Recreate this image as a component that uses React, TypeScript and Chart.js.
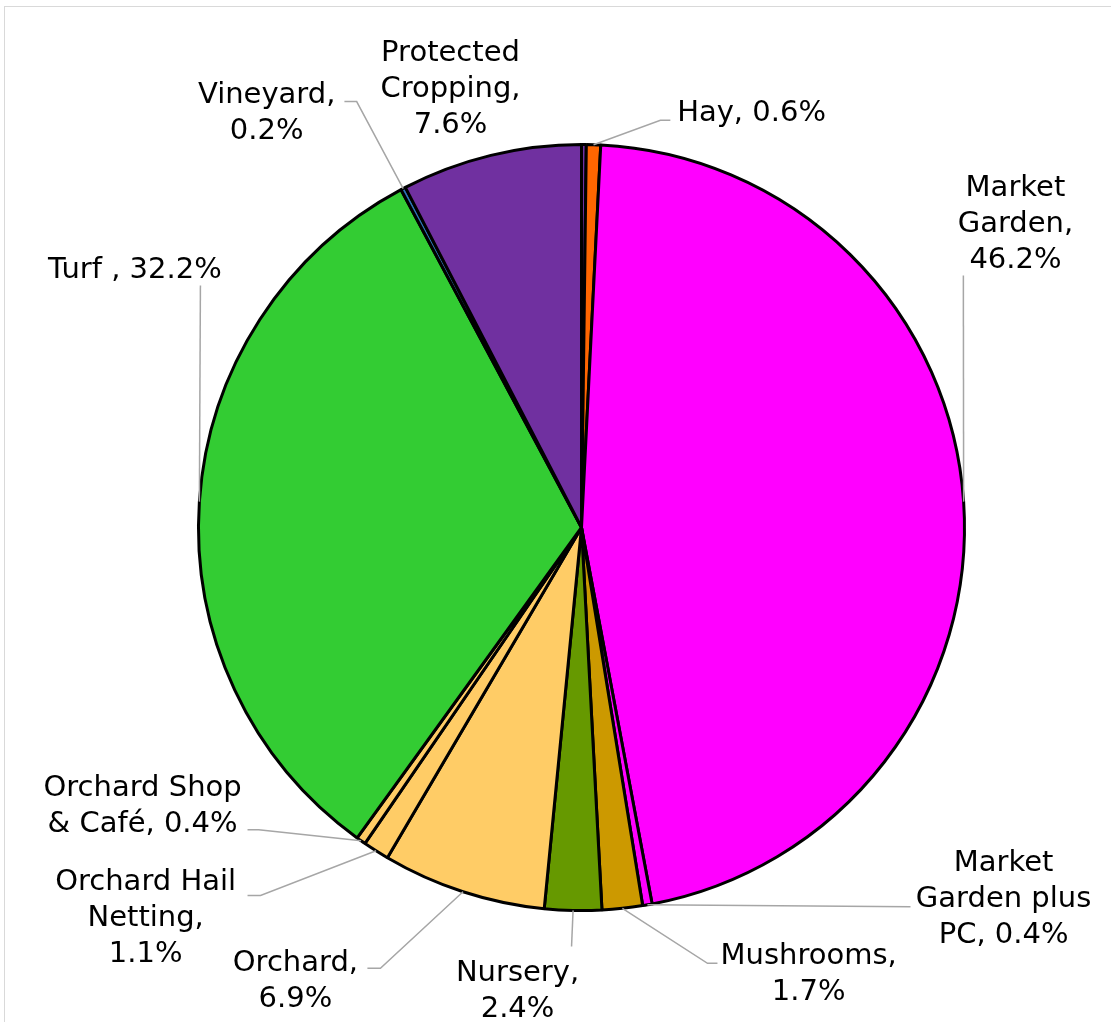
import React, { useEffect, useRef } from "react";
import { Chart, registerables } from "chart.js";

Chart.register(...registerables);

const categories = [
  "",
  "Hay",
  "Market Garden",
  "Market Garden plus PC",
  "Mushrooms",
  "Nursery",
  "Orchard",
  "Orchard Hail Netting",
  "Orchard Shop & Café",
  "Turf ",
  "Vineyard",
  "Protected Cropping",
];

const values = [0.2, 0.6, 46.2, 0.4, 1.7, 2.4, 6.9, 1.1, 0.4, 32.2, 0.2, 7.6];

const colors = [
  "#7030A0",
  "#FF6600",
  "#FF00FF",
  "#FF00FF",
  "#CC9900",
  "#669900",
  "#FFCC66",
  "#FFCC66",
  "#FFCC66",
  "#33CC33",
  "#2E75B6",
  "#7030A0",
];

// label text lines per slice (Excel wrapping)
const labelLines: string[][] = [
  [],
  ["Hay, 0.6%"],
  ["Market", "Garden,", "46.2%"],
  ["Market", "Garden plus", "PC, 0.4%"],
  ["Mushrooms,", "1.7%"],
  ["Nursery,", "2.4%"],
  ["Orchard,", "6.9%"],
  ["Orchard Hail", "Netting,", "1.1%"],
  ["Orchard Shop", "& Café, 0.4%"],
  ["Turf , 32.2%"],
  ["Vineyard,", "0.2%"],
  ["Protected", "Cropping,", "7.6%"],
];

// label block centre (first line) in radius units from the pie centre
const labelPos: [number, number][] = [
  [0, 0],
  [0.444, -1.089],
  [1.133, -0.893],
  [1.102, 0.869],
  [0.593, 1.112],
  [-0.167, 1.157],
  [-0.747, 1.131],
  [-1.138, 0.919],
  [-1.146, 0.674],
  [-1.166, -0.679],
  [-0.822, -1.136],
  [-0.342, -1.245],
];

// leader line points (after the arc point) in radius units
const leaderPts: [number, number][][] = [
  [],
  [[0.206, -1.063], [0.232, -1.063]],
  [[0.997, -0.658]],
  [[0.859, 0.99]],
  [[0.329, 1.138], [0.355, 1.138]],
  [[-0.026, 1.094]],
  [[-0.525, 1.151], [-0.559, 1.151]],
  [[-0.838, 0.961], [-0.872, 0.961]],
  [[-0.843, 0.789], [-0.872, 0.789]],
  [[-0.995, -0.632]],
  [[-0.587, -1.112], [-0.619, -1.112]],
  [],
];

const FONT_SIZE = 29;
const LINE_H = 36;

const labelPlugin = {
  id: "excelLabels",
  afterDraw(chart: any) {
    const ctx = chart.ctx;
    const meta = chart.getDatasetMeta(0);
    ctx.save();
    meta.data.forEach((arc: any, i: number) => {
      const lines = labelLines[i];
      if (!lines || lines.length === 0) return;
      const p = arc.getProps(["x", "y", "startAngle", "endAngle", "outerRadius"], true);
      const r = p.outerRadius;
      const mid = (p.startAngle + p.endAngle) / 2;
      const ax = p.x + Math.cos(mid) * r;
      const ay = p.y + Math.sin(mid) * r;
      const pts = leaderPts[i];
      if (pts.length) {
        ctx.beginPath();
        ctx.strokeStyle = "#a6a6a6";
        ctx.lineWidth = 1.5;
        ctx.moveTo(ax, ay);
        pts.forEach(([ux, uy]) => ctx.lineTo(p.x + ux * r, p.y + uy * r));
        ctx.stroke();
      }
      const [lx, ly] = labelPos[i];
      const tx = p.x + lx * r;
      const ty = p.y + ly * r;
      ctx.fillStyle = "#000";
      ctx.font = `${FONT_SIZE}px "DejaVu Sans", Verdana, sans-serif`;
      ctx.textAlign = "center";
      ctx.textBaseline = "alphabetic";
      lines.forEach((line, k) => {
        ctx.fillText(line, tx, ty + k * LINE_H + FONT_SIZE * 0.365);
      });
    });
    ctx.restore();
  },
};

export default function App() {
  const ref = useRef<HTMLCanvasElement | null>(null);
  useEffect(() => {
    if (!ref.current) return;
    const chart = new Chart(ref.current, {
      type: "pie",
      data: {
        labels: categories,
        datasets: [
          {
            data: values,
            backgroundColor: colors,
            borderColor: "#000",
            borderWidth: 3,
          },
        ],
      },
      options: {
        responsive: false,
        maintainAspectRatio: false,
        animation: false,
        layout: { padding: { left: 197, top: 143, right: 145, bottom: 110 } },
        plugins: {
          legend: { display: false },
          tooltip: { enabled: false },
        },
      },
      plugins: [labelPlugin],
    });
    return () => chart.destroy();
  }, []);
  return (
    <div
      style={{
        position: "fixed",
        left: 0,
        top: 0,
        width: 1111,
        height: 1022,
        background: "#fff",
        overflow: "hidden",
      }}
    >
      <div
        style={{
          position: "absolute",
          left: 4,
          top: 6,
          width: 1200,
          height: 1200,
          border: "1px solid #d9d9d9",
        }}
      />
      <canvas
        ref={ref}
        width={1111}
        height={1022}
        style={{ position: "absolute", left: 0, top: 0, width: 1111, height: 1022 }}
      />
    </div>
  );
}
